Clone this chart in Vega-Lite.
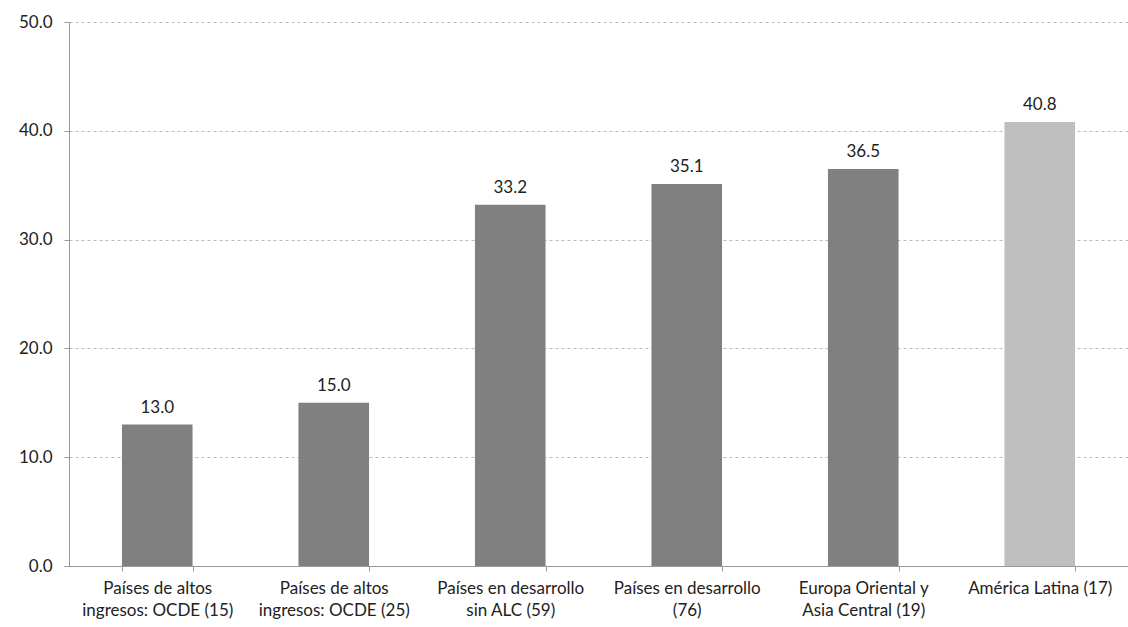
{
  "$schema": "https://vega.github.io/schema/vega-lite/v6.json",
  "width": 1059,
  "height": 544,
  "autosize": {"type": "none"},
  "padding": {"left": 69, "top": 22, "right": 0, "bottom": 61},
  "background": "white",
  "config": {
    "view": {"stroke": null},
    "font": "Lato",
    "axis": {"labelFont": "Lato", "labelColor": "#222", "labelFontSize": 17}
  },
  "data": {
    "values": [
      {"grupo": "Países de altos|ingresos: OCDE (15)", "valor": 13.0, "tipo": "otros"},
      {"grupo": "Países de altos|ingresos: OCDE (25)", "valor": 15.0, "tipo": "otros"},
      {"grupo": "Países en desarrollo|sin ALC (59)", "valor": 33.2, "tipo": "otros"},
      {"grupo": "Países en desarrollo|(76)", "valor": 35.1, "tipo": "otros"},
      {"grupo": "Europa Oriental y|Asia Central (19)", "valor": 36.5, "tipo": "otros"},
      {"grupo": "América Latina (17)", "valor": 40.8, "tipo": "alc"}
    ]
  },
  "encoding": {
    "x": {
      "field": "grupo",
      "type": "nominal",
      "sort": null,
      "scale": {"paddingInner": 0.6, "paddingOuter": 0.3},
      "axis": {
        "title": null,
        "labelAngle": 0,
        "labelExpr": "split(datum.label, '|')",
        "labelPadding": 9,
        "labelLineHeight": 22,
        "tickBand": "extent",
        "tickColor": "#999",
        "tickSize": 5,
        "domainColor": "#999",
        "labelLimit": 220
      }
    },
    "y": {
      "field": "valor",
      "type": "quantitative",
      "scale": {"domain": [0, 50]},
      "axis": {
        "title": null,
        "values": [0, 10, 20, 30, 40, 50],
        "format": ".1f",
        "grid": true,
        "gridDash": [3, 3],
        "gridColor": "#bbb",
        "domainColor": "#999",
        "tickColor": "#999",
        "tickSize": 5,
        "labelPadding": 12
      }
    }
  },
  "layer": [
    {
      "mark": {"type": "bar"},
      "encoding": {
        "color": {
          "field": "tipo",
          "type": "nominal",
          "scale": {"domain": ["otros", "alc"], "range": ["#808080", "#bfbfbf"]},
          "legend": null
        }
      }
    },
    {
      "mark": {"type": "text", "dy": -17, "fontSize": 17, "color": "#222", "font": "Lato"},
      "encoding": {
        "text": {"field": "valor", "type": "quantitative", "format": ".1f"}
      }
    }
  ]
}
